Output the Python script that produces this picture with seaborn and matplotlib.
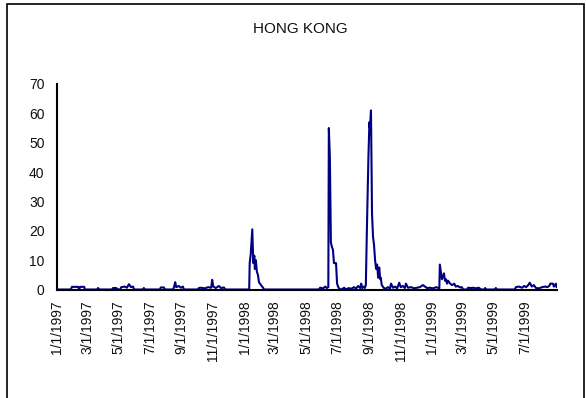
import pandas as pd
import matplotlib
matplotlib.use("Agg")
import matplotlib.pyplot as plt
import seaborn as sns
from matplotlib.patches import Rectangle

# Daily series (key points; zeros where the line sits on the axis)
dates = [
    "1997-01-01", "1997-01-28", "1997-01-30", "1997-02-11", "1997-02-13", "1997-02-15",
    "1997-02-23", "1997-02-24", "1997-03-20", "1997-03-22", "1997-03-24", "1997-04-18",
    "1997-04-20", "1997-04-26", "1997-04-30", "1997-05-04", "1997-05-06", "1997-05-13",
    "1997-05-17", "1997-05-21", "1997-05-25", "1997-05-29", "1997-05-31", "1997-06-17",
    "1997-06-19", "1997-06-21", "1997-07-20", "1997-07-22", "1997-07-28", "1997-07-30",
    "1997-08-15", "1997-08-17", "1997-08-19", "1997-08-21", "1997-08-26", "1997-08-30",
    "1997-09-03", "1997-09-05", "1997-10-02", "1997-10-04", "1997-10-08", "1997-10-16",
    "1997-10-22", "1997-10-28", "1997-10-30", "1997-11-01", "1997-11-06", "1997-11-12",
    "1997-11-16", "1997-11-22", "1997-11-24",
    "1998-01-10", "1998-01-11", "1998-01-13", "1998-01-16", "1998-01-18", "1998-01-20",
    "1998-01-21", "1998-01-23", "1998-01-25", "1998-01-27", "1998-01-29", "1998-02-02",
    "1998-02-06", "1998-02-08",
    "1998-05-26", "1998-05-28", "1998-06-03", "1998-06-07", "1998-06-10", "1998-06-13",
    "1998-06-14", "1998-06-16", "1998-06-18", "1998-06-20", "1998-06-22", "1998-06-24",
    "1998-06-28", "1998-06-30", "1998-07-02", "1998-07-04", "1998-07-08", "1998-07-14",
    "1998-07-17", "1998-07-23", "1998-07-27", "1998-08-02", "1998-08-06", "1998-08-10",
    "1998-08-14", "1998-08-16", "1998-08-18", "1998-08-21", "1998-08-23",
    "1998-08-25", "1998-08-27", "1998-08-30", "1998-09-01", "1998-09-02", "1998-09-04",
    "1998-09-06", "1998-09-08", "1998-09-10", "1998-09-12", "1998-09-14", "1998-09-16",
    "1998-09-18", "1998-09-20", "1998-09-22", "1998-09-23", "1998-09-25", "1998-09-29",
    "1998-10-03", "1998-10-07", "1998-10-11", "1998-10-13", "1998-10-17", "1998-10-21",
    "1998-10-25", "1998-10-29", "1998-11-01", "1998-11-05", "1998-11-09", "1998-11-11",
    "1998-11-15", "1998-11-21", "1998-11-27", "1998-12-03", "1998-12-08", "1998-12-14",
    "1998-12-18", "1998-12-22", "1998-12-28",
    "1999-01-03", "1999-01-09", "1999-01-15", "1999-01-16", "1999-01-18", "1999-01-20",
    "1999-01-22", "1999-01-24", "1999-01-26", "1999-01-28", "1999-01-30", "1999-02-01",
    "1999-02-05", "1999-02-09", "1999-02-13", "1999-02-16", "1999-02-20", "1999-02-24",
    "1999-02-28", "1999-03-02", "1999-03-10", "1999-03-12", "1999-03-18", "1999-03-22",
    "1999-03-27", "1999-04-02", "1999-04-06", "1999-04-13", "1999-04-14", "1999-04-16",
    "1999-05-03", "1999-05-05", "1999-05-07", "1999-06-11", "1999-06-13", "1999-06-19",
    "1999-06-25", "1999-06-29", "1999-07-03", "1999-07-07", "1999-07-10", "1999-07-14",
    "1999-07-18", "1999-07-22", "1999-07-28", "1999-08-03", "1999-08-09", "1999-08-13",
    "1999-08-17", "1999-08-19", "1999-08-24", "1999-08-26", "1999-08-30", "1999-08-31",
]
values = [
    0, 0, 0.9, 0.9, 0, 0.9,
    0.9, 0, 0, 0.5, 0, 0,
    0.5, 0.5, 0, 0, 0.8, 1.0,
    0.6, 1.8, 0.8, 1.0, 0, 0,
    0.5, 0, 0, 0.7, 0.7, 0,
    0, 1.0, 2.5, 0.8, 1.2, 0.6,
    1.0, 0, 0, 0.5, 0.6, 0.4,
    0.8, 0.6, 3.3, 1.0, 0.5, 1.2,
    0.5, 0.7, 0,
    0, 9, 12, 20.5, 9, 11.5,
    7, 10, 6, 5, 2.5, 1.5,
    0.6, 0,
    0, 0.6, 0.4, 1.0, 0.5, 0.8,
    55, 45, 16, 14.5, 13.5, 9,
    9, 2, 1, 0.3, 0, 0.6,
    0, 0.5, 0.2, 0.8, 0.3, 1.2,
    0.5, 2.0, 0.5, 1.0, 0.5,
    1.5, 20, 45, 57, 55, 61,
    26, 18, 15, 10, 7, 8.5,
    4, 7.5, 3.5, 4, 1.5, 0.5,
    0.3, 0.8, 0.3, 2.0, 0.6, 1.0,
    0.4, 2.3, 0.8, 1.2, 0.5, 2.0,
    0.6, 0.8, 0.4, 0.6, 0.8, 1.5,
    1.0, 0.5, 0.6,
    0.4, 0.8, 0.4, 8.5, 6, 3.5,
    4.3, 5.5, 3, 3.5, 2, 3,
    2, 1.5, 2, 1, 1.2, 0.7,
    0.8, 0, 0, 0.6, 0.5, 0.6,
    0.4, 0.6, 0, 0, 0.5, 0,
    0, 0.5, 0, 0, 0.8, 1.0,
    0.6, 1.2, 0.8, 1.5, 2.3, 1.0,
    1.5, 0.5, 0.4, 0.8, 1.0, 0.8,
    1.2, 2.0, 2.0, 1.0, 2.0, 0.8,
]

tick_dates = [
    "1997-01-01", "1997-03-01", "1997-05-01", "1997-07-01", "1997-09-01", "1997-11-01",
    "1998-01-01", "1998-03-01", "1998-05-01", "1998-07-01", "1998-09-01", "1998-11-01",
    "1999-01-01", "1999-03-01", "1999-05-01", "1999-07-01", "1999-09-01",
]
tick_labels = [
    "1/1/1997", "3/1/1997", "5/1/1997", "7/1/1997", "9/1/1997", "11/1/1997",
    "1/1/1998", "3/1/1998", "5/1/1998", "7/1/1998", "9/1/1998", "11/1/1998",
    "1/1/1999", "3/1/1999", "5/1/1999", "7/1/1999", "",
]
y_ticks = [0, 10, 20, 30, 40, 50, 60, 70]

df = pd.DataFrame({"date": pd.to_datetime(dates), "value": values})

sns.set_style("white")
plt.rcParams["font.family"] = ["Liberation Sans", "DejaVu Sans"]

fig = plt.figure(figsize=(5.86, 3.98), dpi=100)
ax = fig.add_axes([57 / 586, 1 - 289.5 / 398, 500 / 586, 205.5 / 398])

sns.lineplot(data=df, x="date", y="value", color="#000080", linewidth=1.5, ax=ax)

ax.set_xlim(pd.Timestamp(tick_dates[0]), pd.Timestamp(tick_dates[-1]))
ax.set_ylim(0, 70)
ax.set_xticks(pd.to_datetime(tick_dates))
ax.set_xticklabels(tick_labels, rotation=90, fontsize=10)
ax.set_yticks(y_ticks)
ax.set_yticklabels([str(v) for v in y_ticks], fontsize=10)
ax.set_xlabel("")
ax.set_ylabel("")

for side in ["top", "right"]:
    ax.spines[side].set_visible(False)
for side in ["left", "bottom"]:
    ax.spines[side].set_color("black")
    ax.spines[side].set_linewidth(1.5)
ax.tick_params(axis="both", direction="out", length=4, width=1.5, color="black",
               labelcolor="#111111", pad=5)
ax.tick_params(axis="x", pad=4)

fig.text(300 / 586, 1 - 29 / 398, "HONG KONG", ha="center", va="center", fontsize=11,
         color="#111111")

# outer chart frame
fig.patches.append(Rectangle((7 / 586, -0.01), 577 / 586, 1.0, transform=fig.transFigure,
                             fill=False, edgecolor="black", linewidth=1.2))

fig.savefig("out.png", dpi=100)
